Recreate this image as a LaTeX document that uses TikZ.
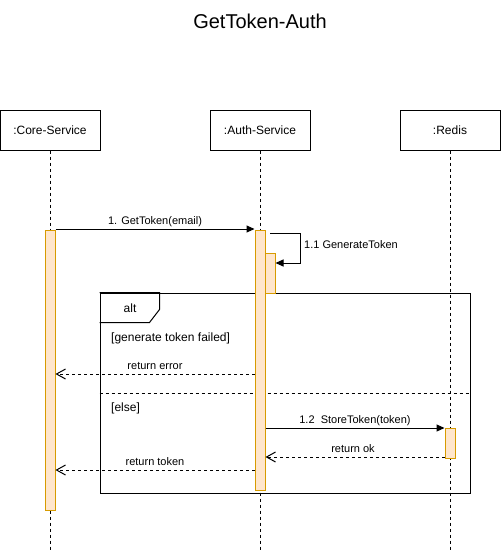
\documentclass[tikz,border=0pt]{standalone}
\usepackage{fontspec}
\setmainfont{Liberation Sans}
\usetikzlibrary{arrows.meta,positioning}
\definecolor{barfill}{HTML}{FFE6CC}
\definecolor{barline}{HTML}{D79B00}

\tikzset{
	obj/.style={draw, line width=1pt, minimum width=100pt, minimum height=40pt, inner sep=0pt, font=\fontsize{12}{14}\selectfont},
	actbar/.style={draw=barline, fill=barfill, line width=1pt, minimum width=10pt, inner sep=0pt},
	lifeline/.style={line width=1pt, dash pattern=on 3pt off 3pt},
	callmsg/.style={line width=1pt, -{Triangle[length=8pt,width=7pt]}},
	retmsg/.style={line width=1pt, dash pattern=on 3pt off 3pt, -{Straight Barb[length=9pt,width=10pt]}},
	msglabel/.style={font=\fontsize{11}{13}\selectfont, inner sep=1pt, text height=8pt, text depth=2.5pt},
	guard/.style={font=\fontsize{12}{14}\selectfont, anchor=west, inner sep=0pt}
}

\begin{document}
\begin{tikzpicture}[x=1pt,y=-1pt]
	\useasboundingbox (0,0) rectangle (501,551);
	\node (title) at (260,21) {\fontsize{20}{24}\selectfont GetToken-Auth};

	% objects and lifelines
	\node[obj] (core) at (50,130) {:Core-Service};
	\node[obj] (auth) at (260,130) {:Auth-Service};
	\node[obj] (redis) at (450,130) {:Redis};
	\coordinate (bottom) at (0,551);
	\draw[lifeline] (core.south) -- (core.south |- bottom);
	\draw[lifeline] (auth.south) -- (auth.south |- bottom);
	\draw[lifeline] (redis.south) -- (redis.south |- bottom);

	% alt frame
	\node[draw, line width=1pt, minimum width=370pt, minimum height=200pt, inner sep=0pt] (alt) at (285,393) {};
	\draw[line width=1pt] (alt.north west) -- ++(60,0) -- ++(0,17) -- ++(-10,13) -- ++(-50,0);
	\node (altlabel) at (130,308) {\fontsize{12}{14}\selectfont alt};
	\draw[lifeline] (alt.west) -- (alt.east);
	\node[guard] (failed) at (111,338) {[generate token failed]};
	\node[guard] (else) at (111,408) {[else]};

	% activation bars
	\node[actbar, minimum height=280pt] (corebar) at (50,370) {};
	\node[actbar, minimum height=260pt] (authbar) at (260,360) {};
	\node[actbar, minimum height=40pt] (genbar) at (270,273) {};
	\node[actbar, minimum height=30pt] (redisbar) at (450,443) {};

	% messages
	\coordinate (r1) at (0,229);
	\coordinate (r2) at (0,374);
	\coordinate (r3) at (0,428);
	\coordinate (r4) at (0,457);
	\coordinate (r5) at (0,470);
	\draw[callmsg] (corebar.east |- r1) -- (authbar.west |- r1) node[msglabel, midway, above=1pt]{1. GetToken(email)};
	\draw[callmsg] (270,233) -- (300,233) -- (300,263) -- (genbar.east |- 0,263);
	\node[msglabel, anchor=west] (genlabel) at (303,246) {1.1 GenerateToken};
	\draw[retmsg] (authbar.west |- r2) -- (corebar.east |- r2) node[msglabel, midway, above=1pt]{return error};
	\draw[callmsg] (authbar.east |- r3) -- (redisbar.west |- r3) node[msglabel, midway, above=1pt]{1.2\ \ StoreToken(token)};
	\draw[retmsg] (redisbar.west |- r4) -- (authbar.east |- r4) node[msglabel, midway, above=1pt, xshift=-2pt]{return ok};
	\draw[retmsg] (authbar.west |- r5) -- (corebar.east |- r5) node[msglabel, midway, above=1pt]{return token};
\end{tikzpicture}
\end{document}
